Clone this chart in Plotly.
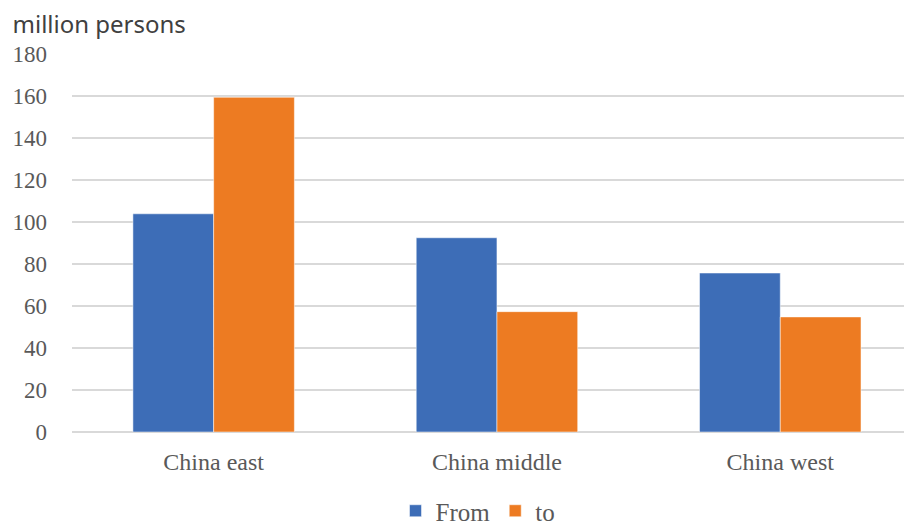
import plotly.graph_objects as go

categories = ["China east", "China middle", "China west"]
from_values = [103.9, 92.5, 75.7]
to_values = [159.4, 57.3, 54.8]
y_ticks = [0, 20, 40, 60, 80, 100, 120, 140, 160, 180]

W, H = 904, 516

fig = go.Figure()
fig.add_trace(go.Bar(name="From", x=categories, y=from_values,
                     marker=dict(color="#3D6DB7", line=dict(color="rgba(255,255,255,0.5)", width=1))))
fig.add_trace(go.Bar(name="to", x=categories, y=to_values,
                     marker=dict(color="#ED7B22", line=dict(color="rgba(255,255,255,0.5)", width=1))))

fig.update_layout(
    width=W, height=H,
    margin=dict(l=64, r=0, t=46, b=92),
    plot_bgcolor="white", paper_bgcolor="white",
    barmode="group", bargap=0.43, bargroupgap=0,
    title=dict(text="million persons", x=4.5 / W, xanchor="left", xref="container",
               y=1 - 17 / H, yanchor="middle", yref="container",
               font=dict(family="Noto Sans", size=24, color="#404040")),
    xaxis=dict(range=[-0.5, 2.465], showgrid=False, showline=False, zeroline=False,
               tickfont=dict(family="Liberation Serif", size=24, color="#595959"),
               ticklabelstandoff=13),
    yaxis=dict(range=[0, 180], tickvals=y_ticks, showgrid=True, gridcolor="#D9D9D9", gridwidth=1.5,
               zeroline=True, zerolinecolor="#D9D9D9", zerolinewidth=1.5, showline=False,
               tickfont=dict(family="Liberation Serif", size=23, color="#595959"),
               ticklabelstandoff=24),
    legend=dict(orientation="h", x=470 / W, xanchor="center", xref="container",
                y=13 / H, yanchor="middle", yref="container",
                font=dict(family="Liberation Serif", size=25, color="#595959"),
                itemwidth=30, traceorder="normal"),
    showlegend=True,
)

fig.write_html("out.html")
